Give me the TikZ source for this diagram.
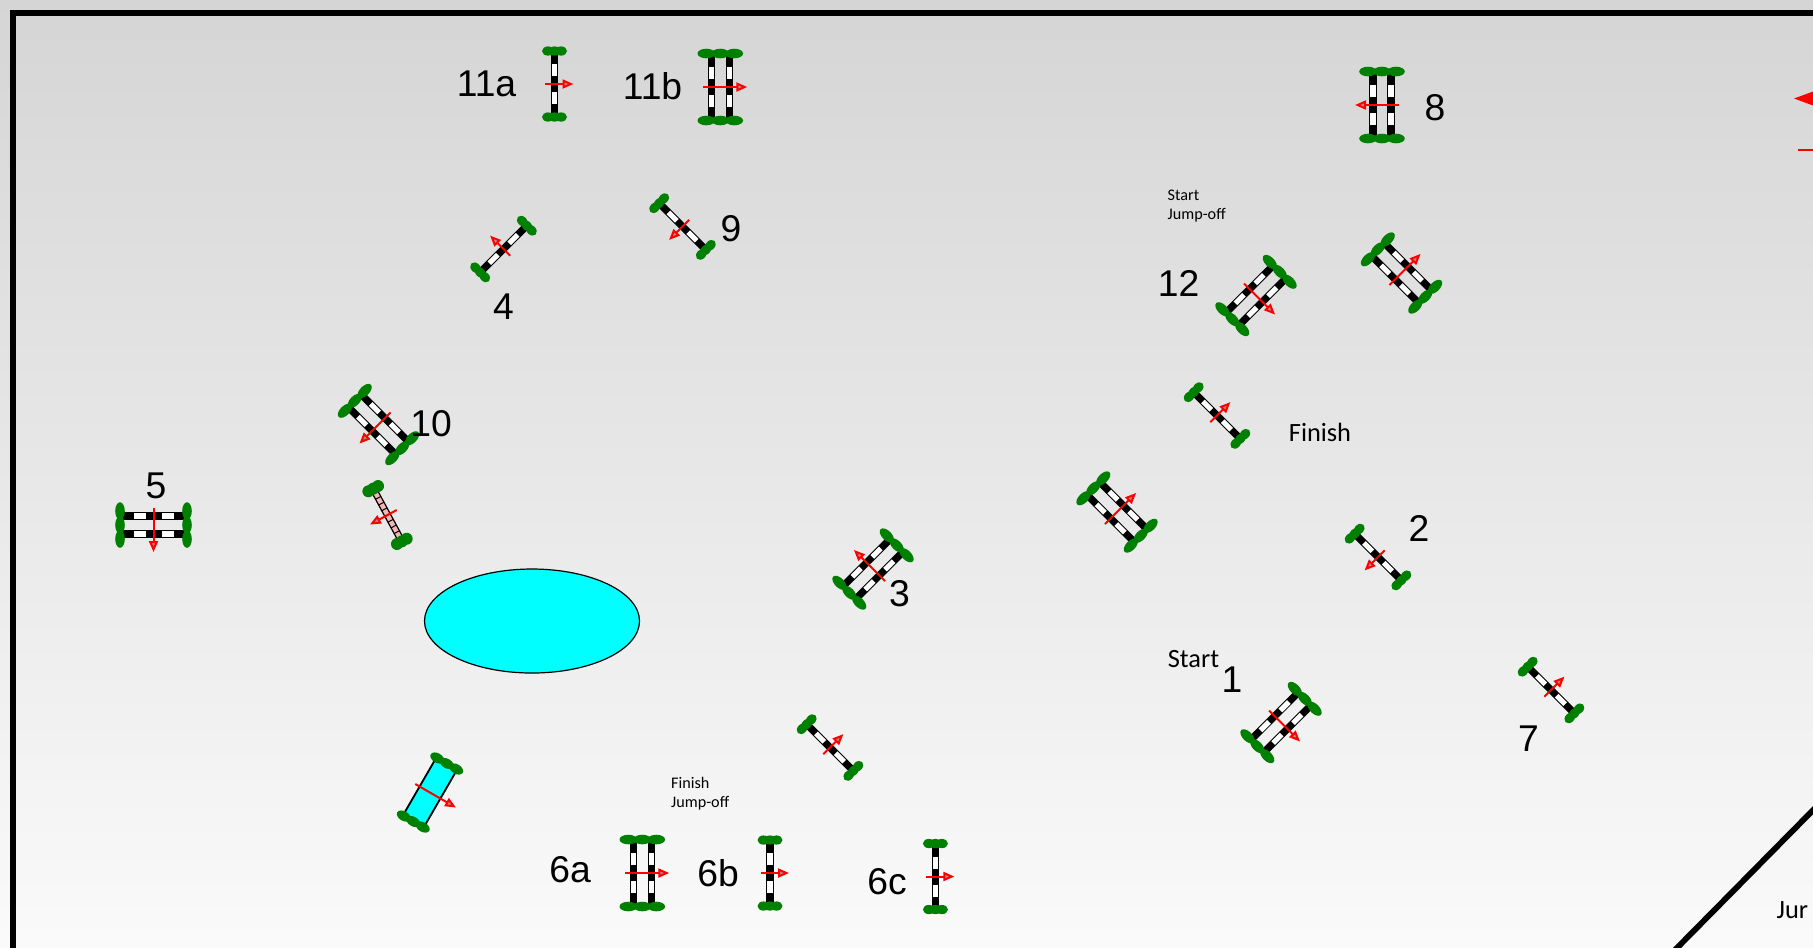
\documentclass[tikz,border=0pt]{standalone}
\usepackage{fontspec}
\setmainfont{Liberation Sans}
\newfontfamily\calibri{Carlito}
\usetikzlibrary{arrows.meta}

\definecolor{hedge}{HTML}{008000}
\definecolor{pinkbar}{HTML}{F2B6B6}
\definecolor{headgray}{HTML}{B08A8A}
\definecolor{water}{HTML}{00FFFF}

\tikzset{
	upw/.style={red, line width=0.02cm, -{Triangle[length=0.11cm, width=0.09cm, fill=headgray]}},
	bar/.style={black, line width=0.072cm},
	gap/.style={white, line width=0.052cm},
	% green ends of a fence
	endsingle/.pic={
		\foreach \i in {-6.5, 0, 6.5}
			\fill[hedge] (\i, 0) ellipse [x radius=6, y radius=4.6];
	},
	enddouble/.pic={
		\foreach \i in {-14, 0, 14}
			\fill[hedge] (\i, 0) ellipse [x radius=8.8, y radius=4.8];
	},
	endditch/.pic={
		\foreach \i in {-11, 0, 11}
			\fill[hedge] (\i, 0) ellipse [x radius=7.5, y radius=4.8];
	},
	% one bar
	rail/.pic={
		\draw[bar] (0, -31) -- (0, 31);
		\draw[gap] (0, -20) -- (0, -8);
		\draw[gap] (0, 8) -- (0, 20);
		\pic[transform shape] at (0, -33) {endsingle};
		\pic[transform shape] at (0, 33) {endsingle};
		\draw[upw] (-9.5, 0) -- (19, 0);
	},
	% two bars
	oxer/.pic={
		\foreach \j in {-9, 9} {
			\draw[bar] (\j, -31) -- (\j, 31);
			\draw[gap] (\j, -20) -- (\j, -8);
			\draw[gap] (\j, 8) -- (\j, 20);
		}
		\pic[transform shape] at (0, -33.5) {enddouble};
		\pic[transform shape] at (0, 33.5) {enddouble};
		\draw[upw] (-17, 0) -- (27, 0);
	},
	% pink wall
	wall/.pic={
		\draw[fill=pinkbar, line width=0.012cm] (-3, -26) rectangle (3, 26);
		\foreach \i in {-19.5, -13, -6.5, 0, 6.5, 13, 19.5}
			\draw[line width=0.01cm] (-3, \i) -- (3, \i);
		\foreach \i in {-5.5, 0, 5.5} {
			\fill[hedge] (\i, -30) circle (6);
			\fill[hedge] (\i, 30) circle (6);
		}
		\draw[upw] (-10.5, 0) -- (20, 0);
	},
	% water
	ditch/.pic={
		\fill[water] (-12, -31) rectangle (12, 31);
		\draw[line width=0.018cm] (-12, -31) -- (-12, 31);
		\draw[line width=0.018cm] (12, -31) -- (12, 31);
		\pic[transform shape] at (0, -33.5) {endditch};
		\pic[transform shape] at (0, 33.5) {endditch};
		\draw[upw] (-17, 0) -- (30, 0);
	},
}

\begin{document}
\begin{tikzpicture}[x=0.01cm, y=-0.01cm]

	\tikzstyle{num}=[inner sep=0, font=\fontsize{10.6}{12}\selectfont]
	\tikzstyle{txt}=[inner sep=0, font=\calibri\fontsize{7.5}{9}\selectfont]
	\tikzstyle{note}=[inner sep=0, anchor=west, align=left, font=\calibri\fontsize{4.6}{5.58}\selectfont]

	\useasboundingbox (0, 0) rectangle (1813, 947);
	\clip (0, 0) rectangle (1813, 947);
	\shade[top color={rgb,255:red,213;green,213;blue,213}, bottom color={rgb,255:red,250;green,250;blue,250}] (0, 0) rectangle (1813, 947);

	\coordinate (f_1) at (1281, 722.5);
	\coordinate (f_1b) at (1256, 295.5); % 12
	\coordinate (f_1c) at (1401.5, 273);
	\coordinate (f_2) at (1378, 557);
	\coordinate (f_2b) at (1217, 415.5);
	\coordinate (f_2c) at (1117, 512);
	\coordinate (f_3) at (873, 569);
	\coordinate (f_4) at (503.5, 249);
	\coordinate (f_5) at (153.5, 525);
	\coordinate (f_6a) at (642.3, 873);
	\coordinate (f_6b) at (770, 873);
	\coordinate (f_6c) at (935.4, 876.5);
	\coordinate (f_6d) at (830, 747.5);
	\coordinate (f_7) at (1551, 690);
	\coordinate (f_8) at (1382, 105);
	\coordinate (f_9) at (682.5, 226.5);
	\coordinate (f_10) at (378.5, 424.5);
	\coordinate (f_10b) at (387.5, 515);
	\coordinate (f_11a) at (554.5, 84);
	\coordinate (f_11b) at (720.3, 87);
	\coordinate (f_w) at (430, 792.5);

	% outer frame
	\draw[line width=0.058cm] (13, 960) -- (13, 12.7) -- (1825, 12.7);
	\draw[line width=0.058cm] (1823, 800) -- (1668, 957);

	% lake
	\draw[fill=water, line width=0.012cm] (532, 621) ellipse [x radius=107.5, y radius=52];

	% cut arrow at the right edge
	\fill[red] (1794, 98.5) -- (1813, 91.5) -- (1813, 105.5) -- cycle;
	\draw[red, line width=0.02cm] (1798, 150) -- (1813, 150);

	\pic[rotate=0] at (f_11a) {rail};
	\pic[rotate=0] at (f_11b) {oxer};
	\pic[rotate=180] at (f_8) {oxer};
	\pic[rotate=135] at (f_4) {rail};
	\pic[rotate=225] at (f_9) {rail};
	\pic[rotate=225] at (f_10) {oxer};
	\pic[rotate=208.5] at (f_10b) {wall};
	\pic[rotate=270] at (f_5) {oxer};
	\pic[rotate=135] at (f_3) {oxer};
	\pic[rotate=315] at (f_1b) {oxer};
	\pic[rotate=45] at (f_1c) {oxer};
	\pic[rotate=45] at (f_2b) {rail};
	\pic[rotate=45] at (f_2c) {oxer};
	\pic[rotate=225] at (f_2) {rail};
	\pic[rotate=315] at (f_1) {oxer};
	\pic[rotate=45] at (f_7) {rail};
	\pic[rotate=45] at (f_6d) {rail};
	\pic[rotate=330] at (f_w) {ditch};
	\pic[rotate=0] at (f_6a) {oxer};
	\pic[rotate=0] at (f_6b) {rail};
	\pic[rotate=0] at (f_6c) {rail};

	\node[num] (l_11a) at (486.5, 83.5) {11a};
	\node[num] (l_11b) at (652.5, 86.5) {11b};
	\node[num] (l_8) at (1435, 107.5) {8};
	\node[num] (l_9) at (731, 228.5) {9};
	\node[num] (l_4) at (503.5, 307) {4};
	\node[num] (l_12) at (1178.5, 283.5) {12};
	\node[num] (l_10) at (431, 423.5) {10};
	\node[num] (l_5) at (156, 486) {5};
	\node[num] (l_3) at (899.5, 594) {3};
	\node[num] (l_2) at (1419, 528) {2};
	\node[num] (l_1) at (1232, 680) {1};
	\node[num] (l_7) at (1528.5, 739) {7};
	\node[num] (l_6a) at (570, 870) {6a};
	\node[num] (l_6b) at (718, 873) {6b};
	\node[num] (l_6c) at (887, 882) {6c};

	\node[txt] (finish) at (1320, 432.5) {Finish};
	\node[txt] (start) at (1193.5, 659) {Start};
	\node[txt, anchor=base west] (jur) at (1776, 918) {Jur};
	\node[note] (start_off) at (1167, 206) {Start\\Jump-off};
	\node[note] (finish_off) at (670.5, 793.5) {Finish\\Jump-off};
\end{tikzpicture}
\end{document}
